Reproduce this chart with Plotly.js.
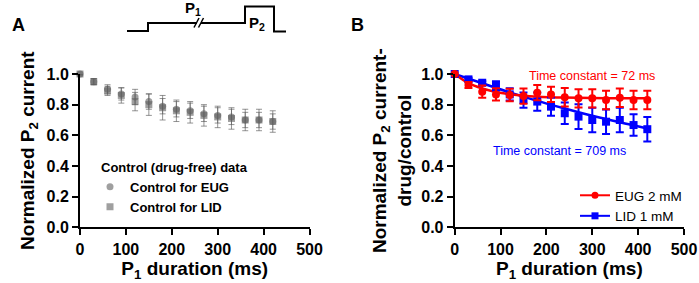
<!DOCTYPE html>
<html><head><meta charset="utf-8">
<script src="https://cdn.plot.ly/plotly-3.0.1.min.js"></script>
<style>html,body{margin:0;padding:0;background:#fff}</style>
</head><body><div id="chart" style="width:699px;height:283px"></div>
<script>
// ---- data ----
const durations = [0,30,60,90,120,150,180,210,240,270,300,330,360,390,420];
// Panel A: control (drug-free)
const ctrlEUG    = [1.00,0.95,0.90,0.87,0.85,0.82,0.79,0.77,0.76,0.74,0.73,0.72,0.70,0.70,0.69];
const ctrlEUGErr = [0.005,0.02,0.03,0.04,0.05,0.05,0.05,0.05,0.05,0.05,0.05,0.05,0.05,0.05,0.05];
const ctrlLID    = [1.00,0.95,0.89,0.86,0.82,0.80,0.78,0.76,0.75,0.73,0.72,0.71,0.70,0.70,0.69];
const ctrlLIDErr = [0.005,0.02,0.03,0.05,0.06,0.07,0.08,0.07,0.07,0.07,0.07,0.07,0.07,0.07,0.07];
// Panel B: drug/control
const eug    = [1.00,0.928,0.885,0.867,0.863,0.856,0.878,0.867,0.848,0.841,0.841,0.83,0.845,0.83,0.83];
const eugErr = [0,0.02,0.04,0.04,0.04,0.05,0.05,0.05,0.06,0.06,0.06,0.06,0.06,0.06,0.06];
const lid    = [1.00,0.965,0.943,0.922,0.867,0.83,0.82,0.787,0.744,0.722,0.70,0.689,0.70,0.667,0.64];
const lidErr = [0,0.01,0.01,0.03,0.04,0.05,0.06,0.06,0.07,0.08,0.08,0.08,0.08,0.07,0.08];
// fitted curves
const eugFitX = [0,30,60,90,120,150,180,240,300,360,420];
const eugFitY = [1.0,0.94,0.905,0.882,0.868,0.858,0.852,0.846,0.843,0.842,0.841];
const lidFitX = [0,60,120,180,240,300,360,420];
const lidFitY = [1.0,0.94,0.88,0.825,0.775,0.728,0.685,0.645];
const xTicks = [0,100,200,300,400,500];
const yTicks = [0.0,0.2,0.4,0.6,0.8,1.0];
const yTickText = ['0.0','0.2','0.4','0.6','0.8','1.0'];

// ---- layout helpers ----
const W = 699, H = 283;
const px = x => x / W, py = y => 1 - y / H;
const FONT = 'Liberation Sans, Arial, sans-serif';
const grey = 'rgba(95,95,95,0.6)';
const greyErr = 'rgba(90,90,90,0.65)';

const traces = [
  {x: durations, y: ctrlEUG, xaxis:'x', yaxis:'y', type:'scatter', mode:'markers', name:'Control for EUG',
   legend:'legend', cliponaxis:false,
   marker:{symbol:'circle', size:7, color:grey},
   error_y:{type:'data', array: ctrlEUGErr, color:greyErr, thickness:1, width:3}},
  {x: durations, y: ctrlLID, xaxis:'x', yaxis:'y', type:'scatter', mode:'markers', name:'Control for LID',
   legend:'legend', cliponaxis:false,
   marker:{symbol:'square', size:7, color:grey},
   error_y:{type:'data', array: ctrlLIDErr, color:greyErr, thickness:1, width:3}},
  // Panel B fits
  {x: lidFitX, y: lidFitY, xaxis:'x2', yaxis:'y2', type:'scatter', mode:'lines', showlegend:false,
   line:{color:'#0000ff', width:2.5, shape:'spline'}},
  {x: eugFitX, y: eugFitY, xaxis:'x2', yaxis:'y2', type:'scatter', mode:'lines', showlegend:false,
   line:{color:'#ff0000', width:2.5, shape:'spline'}},
  // Panel B data
  {x: durations, y: lid, xaxis:'x2', yaxis:'y2', type:'scatter', mode:'markers', showlegend:false,
   cliponaxis:false, marker:{symbol:'square', size:8, color:'#0000ff'},
   error_y:{type:'data', array: lidErr, color:'#0000ff', thickness:2, width:4}},
  {x: durations, y: eug, xaxis:'x2', yaxis:'y2', type:'scatter', mode:'markers', showlegend:false,
   cliponaxis:false, marker:{symbol:'circle', size:8, color:'#ff0000'},
   error_y:{type:'data', array: eugErr, color:'#ff0000', thickness:2, width:4}},
  // legend entries for panel B
  {x:[null], y:[null], xaxis:'x2', yaxis:'y2', type:'scatter', mode:'lines+markers', name:'EUG 2 mM',
   legend:'legend2', line:{color:'#ff0000', width:2}, marker:{symbol:'circle', size:7, color:'#ff0000'}},
  {x:[null], y:[null], xaxis:'x2', yaxis:'y2', type:'scatter', mode:'lines+markers', name:'LID 1 mM',
   legend:'legend2', line:{color:'#0000ff', width:2}, marker:{symbol:'square', size:7, color:'#0000ff'}}
];

const tickFont = {family:FONT, size:16, color:'#000', weight:'bold'};
const titleFont = {family:FONT, size:19, color:'#000', weight:'bold'};
function xax(domain, anchor){
  return {domain, anchor, range:[0,500], tickvals:xTicks, ticktext:xTicks.map(String),
    showgrid:false, zeroline:false, showline:true, linecolor:'#000', linewidth:2,
    ticks:'outside', ticklen:6, tickwidth:2, tickcolor:'#000', tickfont:tickFont,
    title:{text:'P<sub>1</sub> duration (ms)', font:titleFont, standoff:5}, automargin:false, fixedrange:true};
}
function yax(anchor, title, standoff){
  return {domain:[py(227.3), py(74)], anchor, range:[0,1], tickvals:yTicks, ticktext:yTickText,
    showgrid:false, zeroline:false, showline:true, linecolor:'#000', linewidth:2,
    ticks:'outside', ticklen:6, tickwidth:2, tickcolor:'#000', tickfont:tickFont,
    title:{text:title, font:titleFont, standoff}, automargin:false, fixedrange:true};
}

const pulse = [[127,31],[148,31],[148,23],[197,23]];
const pulse2 = [[201,23],[245,23],[245,6.5],[274,6.5],[274,31.5],[286,31.5]];
const toPath = pts => pts.map((p,i)=>(i?'L':'M')+px(p[0])+','+py(p[1])).join(' ');

const layout = {
  width:W, height:H, margin:{l:0,r:0,t:0,b:0},
  paper_bgcolor:'#fff', plot_bgcolor:'rgba(0,0,0,0)',
  font:{family:FONT, color:'#000'},
  xaxis: xax([px(80), px(309.5)], 'y'),
  yaxis: yax('x', 'Normalized P<sub>2</sub> current', 7),
  xaxis2: xax([px(454.7), px(684)], 'y2'),
  yaxis2: yax('x2', 'Normalized P<sub>2</sub> current-<br>drug/control', 5),
  showlegend:true,
  legend:{x:px(99), y:py(155), xanchor:'left', yanchor:'top', bgcolor:'rgba(0,0,0,0)',
    font:{family:FONT, size:13, color:'#000', weight:'bold'},
    title:{text:'Control (drug-free) data', font:{family:FONT, size:13, color:'#000', weight:'bold'}},
    indentation:-9, tracegroupgap:0, itemclick:false},
  legend2:{x:px(575), y:py(180), xanchor:'left', yanchor:'top', bgcolor:'rgba(0,0,0,0)',
    font:{family:FONT, size:13.5, color:'#000'}, tracegroupgap:0, itemclick:false},
  shapes:[
    {type:'path', xref:'paper', yref:'paper', path:toPath(pulse), line:{color:'#000', width:2}},
    {type:'path', xref:'paper', yref:'paper', path:toPath(pulse2), line:{color:'#000', width:2}},
    {type:'line', xref:'paper', yref:'paper', x0:px(194), y0:py(27.5), x1:px(199), y1:py(18), line:{color:'#000', width:1.5}},
    {type:'line', xref:'paper', yref:'paper', x0:px(198.5), y0:py(27.5), x1:px(203.5), y1:py(18), line:{color:'#000', width:1.5}}
  ],
  annotations:[
    {text:'<b>A</b>', xref:'paper', yref:'paper', x:px(10), y:py(13), showarrow:false, font:{family:FONT, size:18, color:'#000'}},
    {text:'<b>B</b>', xref:'paper', yref:'paper', x:px(357), y:py(13), showarrow:false, font:{family:FONT, size:18, color:'#000'}},
    {text:'<b>P<sub>1</sub></b>', xref:'paper', yref:'paper', x:px(183), y:py(20), xanchor:'left', yanchor:'bottom', showarrow:false, font:{family:FONT, size:15, color:'#000'}},
    {text:'<b>P<sub>2</sub></b>', xref:'paper', yref:'paper', x:px(257), y:py(12), showarrow:false, font:{family:FONT, size:15, color:'#000'}},
    {text:'Time constant = 72 ms', xref:'x2', yref:'y2', x:299, y:0.987, showarrow:false, font:{family:FONT, size:12.5, color:'#ff0000'}},
    {text:'Time constant = 709 ms', xref:'x2', yref:'y2', x:229.6, y:0.50, showarrow:false, font:{family:FONT, size:12.5, color:'#0000ff'}}
  ]
};

Plotly.newPlot('chart', traces, layout, {displayModeBar:false, staticPlot:true});
</script></body></html>
